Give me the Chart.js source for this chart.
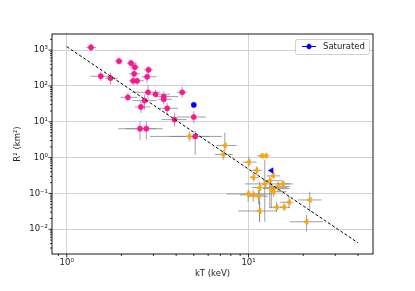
<!DOCTYPE html>
<html>
<head>
<meta charset="utf-8">
<script src="https://cdn.jsdelivr.net/npm/chart.js@4.4.1/dist/chart.umd.min.js"></script>
<style>
html,body{margin:0;padding:0;background:#fff;}
canvas{display:block;}
</style>
</head>
<body>
<canvas id="c" width="415" height="291"></canvas>
<script>
// ---- Data ----
const pinkKT   = [1.36,1.94,2.26,2.37,2.82,2.35,1.54,1.74,2.77,2.32,2.44,2.80,3.08,3.42,3.42,4.32,2.17,2.68,2.56,3.57,3.92,2.53,2.74,5.00,5.09];
const pinkR2   = [1190,492,433,334,282,218,187,165,180,139,139,66.7,58.5,50.5,42.4,66.7,48.2,39,26,23.7,11.5,6.4,6.4,13.6,3.9];
const pinkKTlo = [1.28,1.84,2.14,2.23,2.66,2.20,1.355,1.62,2.58,2.20,2.28,2.28,2.87,3.12,3.17,4.04,1.98,2.31,2.37,3.26,3.33,1.92,2.12,4.04,3.70];
const pinkKThi = [1.45,2.04,2.43,2.50,2.98,2.53,1.77,1.91,3.12,2.43,2.66,3.26,3.70,4.10,3.79,4.58,2.44,3.13,2.87,4.09,4.56,3.10,3.38,5.83,6.13];
const pinkR2lo = [920,398,349,253,209,172,135,109,122,103,103,41.6,47.3,41.6,30.1,47.3,37.2,21.8,17.6,15.8,7.3,3.15,3.15,9.25,1.20];
const pinkR2hi = [1540,624,549,452,357,270,258,237,288,183,183,109,79,69.7,57.4,96,64,57.4,37.2,33.6,18,10.3,10.3,19.5,5.64];

const orangeKT   = [4.72,7.41,7.25,11.83,12.45,10.04,11.07,10.62,13.65,13.09,12.29,15.43,14.54,11.51,13.35,13.74,9.95,10.60,11.36,21.72,16.70,14.26,15.67,11.51,20.83];
const orangeR2   = [3.90,2.18,1.22,1.12,1.12,0.748,0.441,0.281,0.309,0.227,0.1845,0.1845,0.157,0.145,0.136,0.112,0.0968,0.0908,0.0835,0.0658,0.0567,0.0411,0.0411,0.0324,0.0162];
const orangeKTlo = [2.87,6.67,6.53,11.2,11.8,9.30,10.4,10.2,12.6,12.0,9.55,14.3,13.1,10.4,12.0,13.1,7.57,8.96,9.91,18.7,14.9,13.1,14.9,8.77,16.9];
const orangeKThi = [7.13,8.59,8.20,12.4,13.1,11.07,11.8,11.3,14.9,15.2,16.9,17.6,16.9,16.4,16.9,16.2,13.6,12.3,12.8,25.2,17.6,15.5,16.9,14.3,25.7];
const orangeR2lo = [2.82,1.48,0.868,0.968,0.968,0.564,0.33,0.214,0.267,0.039,0.0162,0.152,0.112,0.0162,0.0385,0.081,0.0589,0.058,0.05,0.031,0.0385,0.0303,0.0324,0.0162,0.0085];
const orangeR2hi = [5.38,4.95,1.65,1.34,1.34,1.07,0.564,0.368,0.408,0.30,0.868,0.239,0.214,0.214,0.197,0.155,0.125,0.125,0.125,0.112,0.085,0.0589,0.0555,0.0589,0.025];

const satKT = [5.0, 13.38];
const satR2 = [29.6, 0.435];

const fitKT = [1, 40];
const fitR2 = [1250, 0.0042];

const xMajorTicks = [1, 10];
const yMajorTicks = [0.01, 0.1, 1, 10, 100, 1000];
const xRange = [0.83, 48.4];
const yRange = [0.00204, 2818];

const legendLabel = 'Saturated';
const xTitle = 'kT (keV)';
const yTitle = 'R\u00B2 (km\u00B2)';

// ---- helpers ----
const SUP = {'-':'\u207B','0':'\u2070','1':'\u00B9','2':'\u00B2','3':'\u00B3','4':'\u2074','5':'\u2075','6':'\u2076','7':'\u2077','8':'\u2078','9':'\u2079'};
function supStr(n){ return String(n).split('').map(c=>SUP[c]).join(''); }
function logTicks(min, max){
  const t = [];
  for (let e = Math.floor(Math.log10(min)); e <= Math.ceil(Math.log10(max)); e++) {
    for (let m = 1; m <= 9; m++) {
      const v = parseFloat((m * Math.pow(10, e)).toPrecision(6));
      if (v >= min && v <= max) t.push({value: v, major: m === 1});
    }
  }
  return t;
}
function isMajorVal(v, majors){ return majors.some(m => Math.abs(m - v) / m < 1e-9); }
function tickLabel(v, majors){
  if (!isMajorVal(v, majors)) return '';
  return '10' + supStr(Math.round(Math.log10(v)));
}
const pts = (xs, ys) => xs.map((x, i) => ({x: x, y: ys[i]}));

const FONT = "'DejaVu Sans', sans-serif";

// ---- plugins ----
const bgPlugin = {
  id: 'bg',
  beforeDraw(chart){
    const c = chart.ctx; c.save(); c.fillStyle = '#fff'; c.fillRect(0,0,chart.width,chart.height); c.restore();
  }
};
const errPlugin = {
  id: 'errbars',
  beforeDatasetsDraw(chart){
    const c = chart.ctx, xs = chart.scales.x, ys = chart.scales.y, a = chart.chartArea;
    c.save();
    c.beginPath(); c.rect(a.left, a.top, a.right - a.left, a.bottom - a.top); c.clip();
    c.strokeStyle = 'rgba(128,128,128,0.75)';
    c.lineWidth = 1;
    const draw = (X, Y, Xl, Xh, Yl, Yh) => {
      for (let i = 0; i < X.length; i++) {
        const px = xs.getPixelForValue(X[i]), py = ys.getPixelForValue(Y[i]);
        c.beginPath();
        c.moveTo(xs.getPixelForValue(Xl[i]), py); c.lineTo(xs.getPixelForValue(Xh[i]), py);
        c.moveTo(px, ys.getPixelForValue(Yl[i])); c.lineTo(px, ys.getPixelForValue(Yh[i]));
        c.stroke();
      }
    };
    draw(pinkKT, pinkR2, pinkKTlo, pinkKThi, pinkR2lo, pinkR2hi);
    draw(orangeKT, orangeR2, orangeKTlo, orangeKThi, orangeR2lo, orangeR2hi);
    c.restore();
  }
};
const framePlugin = {
  id: 'frame',
  afterDatasetsDraw(chart){
    const c = chart.ctx, a = chart.chartArea, xs = chart.scales.x, ys = chart.scales.y;
    c.save();
    c.strokeStyle = '#000'; c.lineWidth = 0.9;
    c.strokeRect(a.left, a.top, a.right - a.left, a.bottom - a.top);
    // tick marks: major longer than minor (outward)
    c.lineWidth = 0.8;
    c.beginPath();
    xs.ticks.forEach(t => {
      const p = xs.getPixelForValue(t.value);
      const len = isMajorVal(t.value, xMajorTicks) ? 3.5 : 2;
      c.moveTo(p, a.bottom); c.lineTo(p, a.bottom + len);
    });
    ys.ticks.forEach(t => {
      const p = ys.getPixelForValue(t.value);
      const len = isMajorVal(t.value, yMajorTicks) ? 3.5 : 2;
      c.moveTo(a.left, p); c.lineTo(a.left - len, p);
    });
    c.stroke();
    // legend box (upper right, inside axes)
    const bx = a.right - 78, by = a.top + 5, bw = 74, bh = 15;
    c.fillStyle = 'rgba(255,255,255,0.85)';
    c.strokeStyle = '#d0d0d0'; c.lineWidth = 1;
    c.beginPath();
    if (c.roundRect) c.roundRect(bx + 0.5, by + 0.5, bw, bh, 2); else c.rect(bx + 0.5, by + 0.5, bw, bh);
    c.fill(); c.stroke();
    const mx = bx + 14, my = by + 7.5;
    c.strokeStyle = '#0000ff'; c.lineWidth = 1;
    c.beginPath(); c.moveTo(mx - 7, my); c.lineTo(mx + 7, my); c.moveTo(mx, my - 3); c.lineTo(mx, my + 3); c.stroke();
    c.fillStyle = '#0000ff';
    c.beginPath(); c.arc(mx, my, 2.5, 0, Math.PI * 2); c.fill();
    c.fillStyle = '#222';
    c.font = '8.5px ' + FONT;
    c.textBaseline = 'middle'; c.textAlign = 'left';
    c.fillText(legendLabel, bx + 28, my + 0.5);
    c.restore();
  }
};

new Chart(document.getElementById('c'), {
  type: 'scatter',
  data: {
    datasets: [
      {
        label: 'fit',
        type: 'line',
        data: pts(fitKT, fitR2),
        borderColor: '#000', borderWidth: 1, borderDash: [3, 2],
        pointRadius: 0, fill: false, showLine: true, tension: 0
      },
      {
        label: legendLabel,
        data: pts(satKT, satR2),
        pointStyle: ['circle', 'triangle'],
        rotation: [0, -90],
        radius: [2.6, 3.2],
        backgroundColor: '#0000ff', borderColor: '#0000ff', borderWidth: 0.5
      },
      {
        label: 'pink',
        data: pts(pinkKT, pinkR2),
        pointStyle: 'circle', radius: 2.6,
        backgroundColor: '#ff1493', borderColor: '#ff1493', borderWidth: 0.5
      },
      {
        label: 'orange',
        data: pts(orangeKT, orangeR2),
        pointStyle: 'triangle', rotation: -90, radius: 3.2,
        backgroundColor: '#ffa500', borderColor: '#ffa500', borderWidth: 0.5
      }
    ]
  },
  options: {
    responsive: false,
    animation: false,
    events: [],
    layout: { padding: { top: 34, right: 42, left: 0, bottom: 0 } },
    plugins: { legend: { display: false }, tooltip: { enabled: false } },
    scales: {
      x: {
        type: 'logarithmic',
        min: xRange[0], max: xRange[1],
        afterBuildTicks: s => { s.ticks = logTicks(xRange[0], xRange[1]); },
        afterFit: s => { s.height = 37; },
        border: { display: false },
        grid: {
          color: ctx => (ctx.tick && isMajorVal(ctx.tick.value, xMajorTicks)) ? '#d3d3d3' : 'rgba(0,0,0,0)',
          lineWidth: 1, drawTicks: false
        },
        ticks: {
          autoSkip: false, maxRotation: 0, padding: 4, color: '#222',
          font: { family: FONT, size: 8.5 },
          callback: v => tickLabel(v, xMajorTicks)
        },
        title: { display: true, text: xTitle, color: '#222', font: { family: FONT, size: 8.5 }, padding: { top: 0, bottom: 12.6 } }
      },
      y: {
        type: 'logarithmic',
        min: yRange[0], max: yRange[1],
        afterBuildTicks: s => { s.ticks = logTicks(yRange[0], yRange[1]); },
        afterFit: s => { s.width = 52; },
        border: { display: false },
        grid: {
          color: ctx => (ctx.tick && isMajorVal(ctx.tick.value, yMajorTicks)) ? '#d3d3d3' : 'rgba(0,0,0,0)',
          lineWidth: 1, drawTicks: false
        },
        ticks: {
          autoSkip: false, padding: 4, color: '#222',
          font: { family: FONT, size: 8.5 },
          callback: v => tickLabel(v, yMajorTicks)
        },
        title: { display: true, text: yTitle, color: '#222', font: { family: FONT, size: 8.5 }, padding: { top: 13, bottom: 0 } }
      }
    }
  },
  plugins: [bgPlugin, errPlugin, framePlugin]
});
</script>
</body>
</html>
